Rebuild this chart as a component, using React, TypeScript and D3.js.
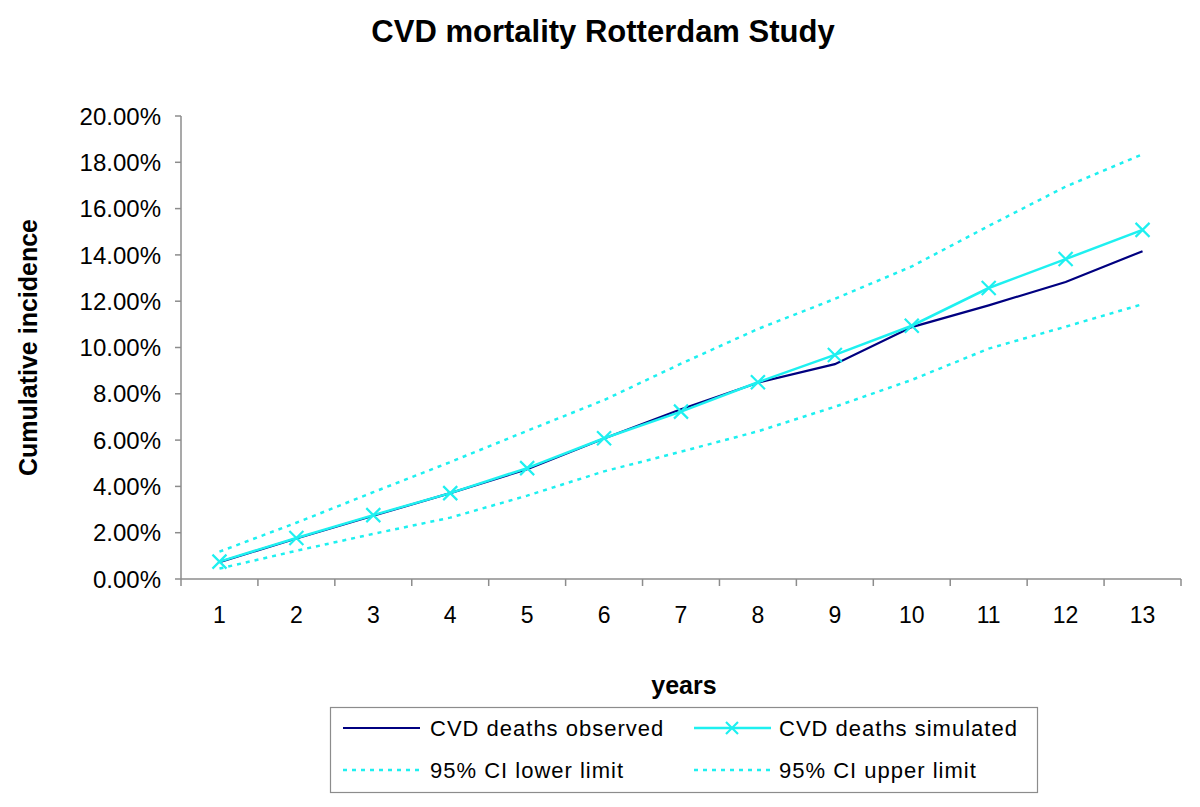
import React from 'react';
import * as d3 from 'd3';

// Years on the x axis
const years = ['1', '2', '3', '4', '5', '6', '7', '8', '9', '10', '11', '12', '13'];

// Cumulative incidence values (fractions)
const observed = [0.0073, 0.0175, 0.0273, 0.0371, 0.0474, 0.0607, 0.0733, 0.0848, 0.0928, 0.1088, 0.1182, 0.1283, 0.1416];
const simulated = [0.0075, 0.0177, 0.0276, 0.0371, 0.0479, 0.0608, 0.0723, 0.0850, 0.0968, 0.1094, 0.1257, 0.1382, 0.1508];
const lowerCI = [0.0045, 0.0122, 0.0195, 0.0265, 0.0360, 0.0465, 0.0550, 0.0638, 0.0744, 0.0860, 0.0995, 0.1090, 0.1187];
const upperCI = [0.0118, 0.0243, 0.0375, 0.0505, 0.0640, 0.0773, 0.0930, 0.1080, 0.1210, 0.1350, 0.1525, 0.1695, 0.1835];

const yTicks = [0, 0.02, 0.04, 0.06, 0.08, 0.1, 0.12, 0.14, 0.16, 0.18, 0.2];

const width = 1200;
const height = 807;
const font = 'Liberation Sans, Arial, sans-serif';
const navy = '#000080';
const cyan = '#1ef0f0';
const axisColor = '#8c8c8c';

export default function App() {
  const left = 181;
  const right = 1181;
  const top = 116;
  const bottom = 579;

  const x = d3.scaleBand<string>().domain(years).range([left, right]).padding(0);
  const y = d3.scaleLinear().domain([0, 0.2]).range([bottom, top]);
  const cx = (i: number) => (x(years[i]) as number) + x.bandwidth() / 2;

  const line = d3.line<number>().x((_, i) => cx(i)).y(d => y(d));

  const crossSize = 7;

  return (
    <svg width={width} height={height} style={{ position: 'absolute', left: 0, top: 0, background: '#fff' }}>
      <rect x={0} y={0} width={width} height={height} fill="#fff" />
      <text x={603} y={42} textAnchor="middle" fontFamily={font} fontWeight="bold" fontSize={31}>
        CVD mortality Rotterdam Study
      </text>

      {/* y axis */}
      <line x1={left} x2={left} y1={top} y2={bottom} stroke={axisColor} strokeWidth={1.5} />
      {yTicks.map(t => (
        <g key={t}>
          <line x1={left - 6} x2={left} y1={y(t)} y2={y(t)} stroke={axisColor} strokeWidth={1.5} />
          <text x={161} y={y(t)} dy="0.36em" textAnchor="end" fontFamily={font} fontSize={24}>
            {(t * 100).toFixed(2)}%
          </text>
        </g>
      ))}
      <text
        transform={`translate(37,${(top + bottom) / 2}) rotate(-90)`}
        textAnchor="middle"
        fontFamily={font}
        fontWeight="bold"
        fontSize={25}
      >
        Cumulative incidence
      </text>

      {/* x axis */}
      <line x1={left} x2={right} y1={bottom} y2={bottom} stroke={axisColor} strokeWidth={1.5} />
      {years.map((yr, i) => (
        <g key={yr}>
          <line x1={(x(yr) as number) + x.bandwidth()} x2={(x(yr) as number) + x.bandwidth()} y1={bottom} y2={bottom + 7} stroke={axisColor} strokeWidth={1.5} />
          <text x={cx(i)} y={623} textAnchor="middle" fontFamily={font} fontSize={23}>
            {yr}
          </text>
        </g>
      ))}
      <line x1={left} x2={left} y1={bottom} y2={bottom + 7} stroke={axisColor} strokeWidth={1.5} />
      <text x={684} y={694} textAnchor="middle" fontFamily={font} fontWeight="bold" fontSize={25}>
        years
      </text>

      {/* series */}
      <path d={line(upperCI) || ''} fill="none" stroke={cyan} strokeWidth={2.5} strokeDasharray="4,5" />
      <path d={line(lowerCI) || ''} fill="none" stroke={cyan} strokeWidth={2.5} strokeDasharray="4,5" />
      <path d={line(observed) || ''} fill="none" stroke={navy} strokeWidth={2.2} />
      <path d={line(simulated) || ''} fill="none" stroke={cyan} strokeWidth={2.5} />
      {simulated.map((v, i) => (
        <path
          key={i}
          d={`M${cx(i) - crossSize},${y(v) - crossSize}L${cx(i) + crossSize},${y(v) + crossSize}M${cx(i) - crossSize},${y(v) + crossSize}L${cx(i) + crossSize},${y(v) - crossSize}`}
          stroke={cyan}
          strokeWidth={2.2}
          fill="none"
        />
      ))}

      {/* legend */}
      <rect x={330.5} y={707.5} width={707} height={85} fill="#fff" stroke={axisColor} strokeWidth={1.2} />
      <g fontFamily={font} fontSize={22} letterSpacing={1}>
        <line x1={343} x2={420} y1={728} y2={728} stroke={navy} strokeWidth={2.2} />
        <text x={430} y={728} dy="0.36em">CVD deaths observed</text>
        <line x1={694} x2={771} y1={728} y2={728} stroke={cyan} strokeWidth={2.5} />
        <path d={`M${732 - 6},${728 - 6}L${732 + 6},${728 + 6}M${732 - 6},${728 + 6}L${732 + 6},${728 - 6}`} stroke={cyan} strokeWidth={2.2} />
        <text x={779} y={728} dy="0.36em">CVD deaths simulated</text>
        <line x1={343} x2={420} y1={770} y2={770} stroke={cyan} strokeWidth={2.5} strokeDasharray="4,5" />
        <text x={430} y={770} dy="0.36em">95% CI lower limit</text>
        <line x1={694} x2={771} y1={770} y2={770} stroke={cyan} strokeWidth={2.5} strokeDasharray="4,5" />
        <text x={779} y={770} dy="0.36em">95% CI upper limit</text>
      </g>
    </svg>
  );
}
